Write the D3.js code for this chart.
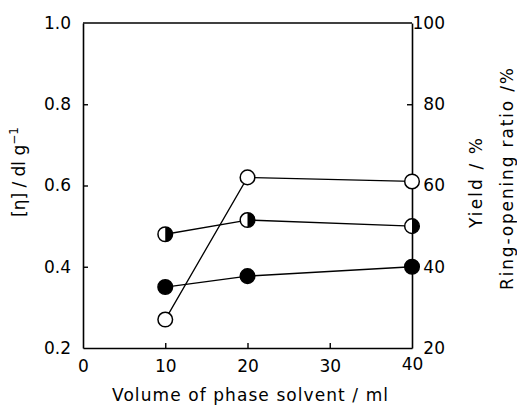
<!DOCTYPE html>
<html>
<head>
<meta charset="utf-8">
<script src="https://cdn.jsdelivr.net/npm/d3@7"></script>
<style>
  body { margin: 0; background: #fff; }
  text { font-family: "DejaVu Sans", sans-serif; fill: #000; }
</style>
</head>
<body>
<svg id="chart" width="517" height="407"></svg>
<script>
'use strict';

// volume of phase solvent (ml)
var volumes = [10, 20, 40];
// [eta] / dl g-1  (filled circles, left axis)
var viscosity = [0.35, 0.377, 0.40];
// yield / %  (open circles, right axis)
var yieldPct = [27, 62, 61];
// ring-opening ratio / %  (half-filled circles, right axis)
var ringOpening = [48, 51.5, 50];

var xTicks = [0, 10, 20, 30, 40];
var leftTicks = [0.2, 0.4, 0.6, 0.8, 1.0];
var rightTicks = [20, 40, 60, 80, 100];

var svg = d3.select('#chart');
var plotL = 83, plotR = 412, plotT = 23, plotB = 348;

var x = d3.scaleLinear().domain([0, 40]).range([plotL, plotR]);
var yL = d3.scaleLinear().domain([0.2, 1.0]).range([plotB, plotT]);
var yR = d3.scaleLinear().domain([20, 100]).range([plotB, plotT]);

// frame top line
svg.append('line')
    .attr('x1', plotL).attr('x2', plotR)
    .attr('y1', plotT).attr('y2', plotT)
    .attr('stroke', '#000').attr('stroke-width', 1.6);

var gx = svg.append('g')
    .attr('transform', 'translate(0,' + plotB + ')')
    .call(d3.axisBottom(x).tickValues(xTicks).tickSizeInner(-5).tickSizeOuter(0).tickPadding(12).tickFormat(d3.format('d')));

var gl = svg.append('g')
    .attr('transform', 'translate(' + plotL + ',0)')
    .call(d3.axisLeft(yL).tickValues(leftTicks).tickSizeInner(-5).tickSizeOuter(0).tickPadding(12).tickFormat(d3.format('.1f')));

var gr = svg.append('g')
    .attr('transform', 'translate(' + plotR + ',0)')
    .call(d3.axisRight(yR).tickValues(rightTicks).tickSizeInner(-5).tickSizeOuter(0).tickFormat(d3.format('d')));

[gx, gl, gr].forEach(function(g) {
    g.select('.domain').attr('stroke-width', 1.6);
    g.selectAll('.tick line').attr('stroke-width', 1.4);
    g.selectAll('text').style('font-size', '17px').style('font-family', '"DejaVu Sans", sans-serif');
});
// end ticks sit on the frame, hide them
gx.selectAll('.tick').filter(function(d) { return d === 0 || d === 40; }).select('line').remove();
gl.selectAll('.tick').filter(function(d) { return d === 0.2 || d === 1.0; }).select('line').remove();
gr.selectAll('.tick').filter(function(d) { return d === 20 || d === 100; }).select('line').remove();

// right labels right-aligned
gr.selectAll('text').attr('text-anchor', 'end').attr('x', 33);
gx.selectAll('.tick').filter(function(d) { return d === 40; }).select('text').attr('y', 10);

// series
function series(vals, yScale) {
    return volumes.map(function(v, i) { return [x(v), yScale(vals[i])]; });
}
var line = d3.line();
var sets = [
    { pts: series(yieldPct, yR), kind: 'open' },
    { pts: series(ringOpening, yR), kind: 'half' },
    { pts: series(viscosity, yL), kind: 'filled' }
];

sets.forEach(function(s) {
    svg.append('path')
        .attr('d', line(s.pts))
        .attr('fill', 'none')
        .attr('stroke', '#000')
        .attr('stroke-width', 1.3);
});

var r = 7.3;
sets.forEach(function(s) {
    var g = svg.append('g');
    g.selectAll('circle')
        .data(s.pts)
        .enter()
        .append('circle')
        .attr('cx', function(d) { return d[0]; })
        .attr('cy', function(d) { return d[1]; })
        .attr('r', r)
        .attr('fill', s.kind === 'filled' ? '#000' : '#fff')
        .attr('stroke', '#000')
        .attr('stroke-width', 1.5);
    if (s.kind === 'half') {
        g.selectAll('path.half')
            .data(s.pts)
            .enter()
            .append('path')
            .attr('class', 'half')
            .attr('d', function(d) {
                return 'M' + d[0] + ',' + (d[1] - r) + ' A' + r + ',' + r + ' 0 0,1 ' + d[0] + ',' + (d[1] + r) + ' Z';
            })
            .attr('fill', '#000');
    }
});

// axis titles
svg.append('text')
    .attr('x', 112).attr('y', 401)
    .attr('textLength', 276)
    .attr('lengthAdjust', 'spacing')
    .style('font-size', '17px')
    .text('Volume of phase solvent / ml');

var lt = svg.append('text')
    .attr('transform', 'translate(25,172) rotate(-90)')
    .attr('text-anchor', 'middle')
    .style('font-size', '17px');
lt.append('tspan').text('[η] / dl g');
lt.append('tspan').attr('dy', -7).style('font-size', '12px').text('−1');

svg.append('text')
    .attr('transform', 'translate(482,228) rotate(-90)')
    .attr('textLength', 90)
    .attr('lengthAdjust', 'spacing')
    .style('font-size', '17px')
    .text('Yield / %');

svg.append('text')
    .attr('transform', 'translate(513,290) rotate(-90)')
    .attr('textLength', 222)
    .attr('lengthAdjust', 'spacing')
    .style('font-size', '17px')
    .text('Ring-opening ratio /%');
</script>
</body>
</html>
